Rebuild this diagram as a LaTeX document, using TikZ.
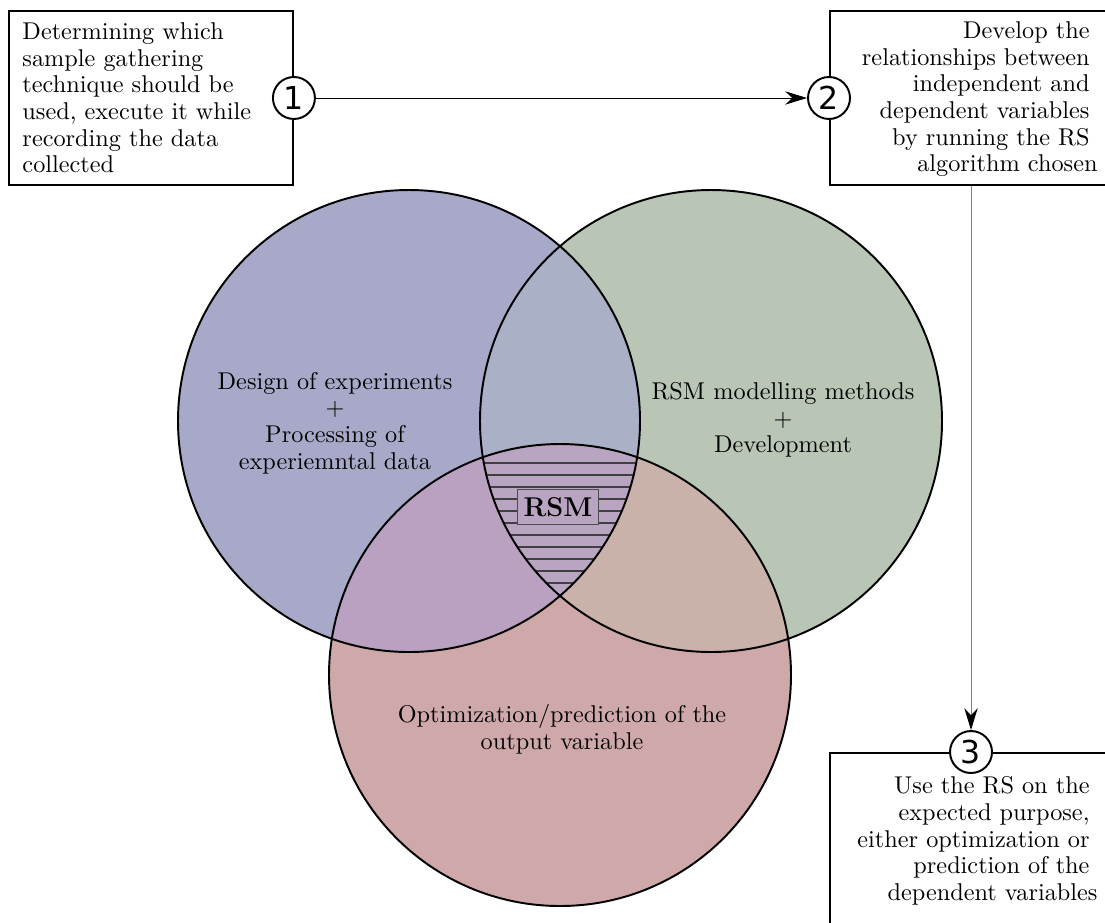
\documentclass[tikz,border=0pt]{standalone}
\usepackage{fontspec}
\newfontfamily\numfont{DejaVu Sans}
\usetikzlibrary{arrows.meta}

\definecolor{doecol}{RGB}{168,169,200}
\definecolor{modcol}{RGB}{185,198,181}
\definecolor{optcol}{RGB}{207,169,170}
\definecolor{doemodcol}{RGB}{170,177,198}
\definecolor{doeoptcol}{RGB}{187,161,193}
\definecolor{modoptcol}{RGB}{202,178,170}
\definecolor{rsmcol}{RGB}{185,164,193}

\tikzset{
  taskbox/.style={draw, thick, inner sep=0pt, anchor=north west},
  tasktext/.style={inner sep=0pt, font=\fontsize{10}{11}\selectfont},
  stepnum/.style={circle, draw, thick, fill=white, inner sep=0pt,
    minimum size=17.3pt, font=\numfont\fontsize{13}{13}\selectfont},
  venntext/.style={align=center, font=\fontsize{10}{11}\selectfont},
  hatchline/.style={draw=black!75, line width=0.5pt},
  flow/.style={-{Stealth[length=9pt,width=5.5pt,color=black]}}
}

\begin{document}
\begin{tikzpicture}[x=0.412pt, y=-0.412pt]
  \useasboundingbox (0,0) rectangle (1105,922);
  \def\rad{231}
  \coordinate (doe) at (409,421);
  \coordinate (mod) at (711,421);
  \coordinate (opt) at (560,675);

  % circles and their overlaps
  \fill[doecol] (doe) circle (\rad);
  \fill[modcol] (mod) circle (\rad);
  \fill[optcol] (opt) circle (\rad);
  \begin{scope}
    \clip (doe) circle (\rad);
    \fill[doemodcol] (mod) circle (\rad);
  \end{scope}
  \begin{scope}
    \clip (doe) circle (\rad);
    \fill[doeoptcol] (opt) circle (\rad);
  \end{scope}
  \begin{scope}
    \clip (mod) circle (\rad);
    \fill[modoptcol] (opt) circle (\rad);
  \end{scope}
  \begin{scope}
    \clip (doe) circle (\rad);
    \clip (mod) circle (\rad);
    \fill[rsmcol] (opt) circle (\rad);
    \foreach \y in {463,475,...,583}
      \draw[hatchline] (450,\y) -- (670,\y);
  \end{scope}
  \draw[thick] (doe) circle (\rad);
  \draw[thick] (mod) circle (\rad);
  \draw[thick] (opt) circle (\rad);

  \node[venntext] (doetxt) at (335,423) {Design of experiments\\+\\Processing of\\experiemntal data};
  \node[venntext] (modtxt) at (783,420) {RSM modelling methods\\+\\Development};
  \node[venntext] (opttxt) at (562,729) {Optimization/prediction of the\\output variable};
  \node[draw=black!70, fill=rsmcol, inner sep=0pt, minimum width=33.4pt, minimum height=14.8pt,
    font=\bfseries\fontsize{11.2}{13}\selectfont] (rsm) at (558,507) {RSM};

  % steps
  \node[taskbox, minimum width=117pt, minimum height=71.7pt] (box1) at (8,10) {};
  \node[taskbox, minimum width=132pt, minimum height=71.7pt] (box2) at (829,10) {};
  \node[taskbox, minimum width=132pt, minimum height=103pt] (box3) at (829,752) {};

  \node[tasktext, anchor=north west, align=left] (txt1) at (22,22)
    {Determining which\\sample gathering\\technique should be\\used, execute it while\\recording the data\\collected};
  \node[tasktext, anchor=north east, align=right] (txt2) at (1090,21)
    {Develop the\\relationships between\\independent and\\dependent variables\\by running the RS\\algorithm chosen\hspace*{-3.3pt}};
  \node[tasktext, anchor=north east, align=right] (txt3) at (1090,776)
    {Use the RS on the\\expected purpose,\\either optimization or\\prediction of the\\dependent variables\hspace*{-3.3pt}};

  \node[stepnum] (n1) at (box1.east) {1};
  \node[stepnum] (n2) at (box2.west) {2};
  \node[stepnum] (n3) at (971,752) {3};

  \draw[flow] (n1) -- (n2);
  \draw[flow, gray] (n3 |- box2.south) -- (n3);
\end{tikzpicture}
\end{document}
